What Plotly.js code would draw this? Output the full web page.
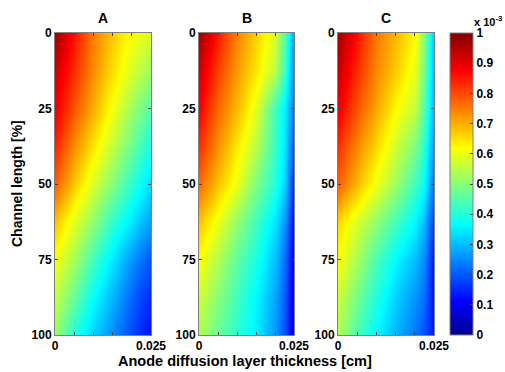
<!DOCTYPE html>
<html>
<head>
<meta charset="utf-8">
<script src="https://cdn.plot.ly/plotly-3.0.1.min.js"></script>
<style>
html,body{margin:0;padding:0;background:#fff;}
#chart{width:505px;height:372px;}
</style>
</head>
<body>
<div id="chart"></div>
<script>
// Anode diffusion layer thickness [cm] (grid columns)
const thickness = [0, 0.005, 0.01, 0.015, 0.02, 0.0225, 0.025];
// Channel length [%] (grid rows)
const channel = [0, 12.5, 25, 37.5, 50, 62.5, 75, 87.5, 100];
// Values (x 10^-3)
const panelA = [
  [0.97, 0.86, 0.75, 0.67, 0.61, 0.60, 0.58],
  [0.92, 0.83, 0.735, 0.65, 0.58, 0.55, 0.52],
  [0.89, 0.79, 0.70, 0.605, 0.52, 0.485, 0.45],
  [0.84, 0.735, 0.645, 0.555, 0.47, 0.43, 0.39],
  [0.78, 0.675, 0.58, 0.495, 0.41, 0.37, 0.33],
  [0.68, 0.59, 0.51, 0.41, 0.34, 0.305, 0.27],
  [0.61, 0.53, 0.43, 0.34, 0.26, 0.225, 0.19],
  [0.56, 0.47, 0.37, 0.29, 0.21, 0.18, 0.15],
  [0.52, 0.40, 0.32, 0.25, 0.18, 0.15, 0.12]
];
const panelB = [
  [0.97, 0.85, 0.745, 0.665, 0.58, 0.45, 0.26],
  [0.92, 0.81, 0.72, 0.645, 0.55, 0.42, 0.24],
  [0.88, 0.77, 0.69, 0.59, 0.43, 0.35, 0.22],
  [0.83, 0.73, 0.64, 0.55, 0.42, 0.34, 0.18],
  [0.77, 0.68, 0.60, 0.49, 0.40, 0.32, 0.14],
  [0.68, 0.60, 0.51, 0.43, 0.34, 0.26, 0.11],
  [0.62, 0.54, 0.46, 0.39, 0.30, 0.22, 0.08],
  [0.57, 0.50, 0.43, 0.36, 0.28, 0.20, 0.07],
  [0.54, 0.47, 0.41, 0.35, 0.26, 0.19, 0.06]
];
const panelC = [
  [0.97, 0.86, 0.755, 0.69, 0.625, 0.50, 0.30],
  [0.93, 0.83, 0.74, 0.67, 0.595, 0.48, 0.29],
  [0.89, 0.79, 0.71, 0.62, 0.56, 0.45, 0.28],
  [0.83, 0.74, 0.66, 0.57, 0.49, 0.41, 0.25],
  [0.78, 0.69, 0.605, 0.52, 0.43, 0.37, 0.22],
  [0.66, 0.58, 0.51, 0.43, 0.36, 0.30, 0.16],
  [0.62, 0.53, 0.44, 0.36, 0.30, 0.25, 0.12],
  [0.57, 0.48, 0.40, 0.32, 0.26, 0.22, 0.12],
  [0.54, 0.44, 0.36, 0.29, 0.23, 0.19, 0.13]
];
const panelNames = ['A', 'B', 'C'];
const xTickVals = [0, 0.005, 0.01, 0.015, 0.02, 0.025];
const xTickText = ['0', ' ', ' ', ' ', ' ', '0.025'];
const yTickVals = [0, 25, 50, 75, 100];
const cbTickVals = [0, 0.1, 0.2, 0.3, 0.4, 0.5, 0.6, 0.7, 0.8, 0.9, 1];

const jet = [
  [0, 'rgb(0,0,143)'],
  [0.111, 'rgb(0,0,255)'],
  [0.365, 'rgb(0,255,255)'],
  [0.619, 'rgb(255,255,0)'],
  [0.873, 'rgb(255,0,0)'],
  [1, 'rgb(128,0,0)']
];

const W = 505, H = 372;
const font = 'Liberation Sans, Arial, sans-serif';
const px = v => v / W;
const py = v => 1 - v / H;

const domainsX = [[px(55), px(151)], [px(199), px(294)], [px(338), px(434)]];
const domainY = [py(335), py(33)];
const panels = [panelA, panelB, panelC];

const data = panels.map((z, i) => ({
  type: 'heatmap',
  x: thickness,
  y: channel,
  z: z,
  zmin: 0, zmax: 1,
  zsmooth: 'best',
  colorscale: jet,
  xaxis: i === 0 ? 'x' : 'x' + (i + 1),
  yaxis: i === 0 ? 'y' : 'y' + (i + 1),
  showscale: i === 2,
  colorbar: {
    x: px(450), xanchor: 'left', xpad: 0,
    y: py(184), yanchor: 'middle', ypad: 0,
    thickness: 23, thicknessmode: 'pixels',
    len: 302, lenmode: 'pixels',
    outlinewidth: 1, outlinecolor: '#808080',
    tickvals: cbTickVals,
    ticktext: cbTickVals.map(v => v === 0 ? '0' : v === 1 ? '1' : v.toFixed(1)),
    ticks: 'inside', ticklen: 3, tickcolor: '#444',
    tickfont: {family: font, size: 12, color: '#000', weight: 'bold'}
  },
  hoverinfo: 'skip'
}));

const layout = {
  width: W, height: H,
  margin: {l: 0, r: 0, t: 0, b: 0},
  paper_bgcolor: '#fff', plot_bgcolor: '#fff',
  showlegend: false,
  annotations: []
};

panels.forEach((z, i) => {
  const xk = i === 0 ? 'xaxis' : 'xaxis' + (i + 1);
  const yk = i === 0 ? 'yaxis' : 'yaxis' + (i + 1);
  layout[xk] = {
    domain: domainsX[i],
    anchor: i === 0 ? 'y' : 'y' + (i + 1),
    range: [0, 0.025],
    tickvals: xTickVals, ticktext: xTickText,
    ticks: 'inside', ticklen: 3, tickcolor: '#444',
    showline: true, linecolor: '#808080', linewidth: 1, mirror: 'ticks',
    showgrid: false, zeroline: false,
    tickfont: {family: font, size: 12, color: '#000', weight: 'bold'}
  };
  layout[yk] = {
    domain: domainY,
    anchor: i === 0 ? 'x' : 'x' + (i + 1),
    range: [100, 0],
    tickvals: yTickVals,
    ticks: 'inside', ticklen: 3, tickcolor: '#444',
    showline: true, linecolor: '#808080', linewidth: 1, mirror: 'ticks',
    showgrid: false, zeroline: false,
    ticklabelstandoff: 0,
    tickfont: {family: font, size: 12, color: '#000', weight: 'bold'}
  };
  layout.annotations.push({
    text: panelNames[i], xref: 'paper', yref: 'paper',
    x: (domainsX[i][0] + domainsX[i][1]) / 2, y: py(18),
    xanchor: 'center', yanchor: 'middle', showarrow: false,
    font: {family: font, size: 14, color: '#000', weight: 'bold'}
  });
});

layout.annotations.push({
  text: 'Channel length [%]', xref: 'paper', yref: 'paper',
  x: px(17), y: py(184), textangle: -90,
  xanchor: 'center', yanchor: 'middle', showarrow: false,
  font: {family: font, size: 14, color: '#000', weight: 'bold'}
});
layout.annotations.push({
  text: 'Anode diffusion layer thickness [cm]', xref: 'paper', yref: 'paper',
  x: px(245), y: py(361),
  xanchor: 'center', yanchor: 'middle', showarrow: false,
  font: {family: font, size: 14.5, color: '#000', weight: 'bold'}
});
layout.annotations.push({
  text: 'x 10<sup>-3</sup>', xref: 'paper', yref: 'paper',
  x: px(472), y: py(21),
  xanchor: 'left', yanchor: 'middle', showarrow: false,
  font: {family: font, size: 11, color: '#000', weight: 'bold'}
});

Plotly.newPlot('chart', data, layout, {staticPlot: true, displayModeBar: false});
</script>
</body>
</html>
